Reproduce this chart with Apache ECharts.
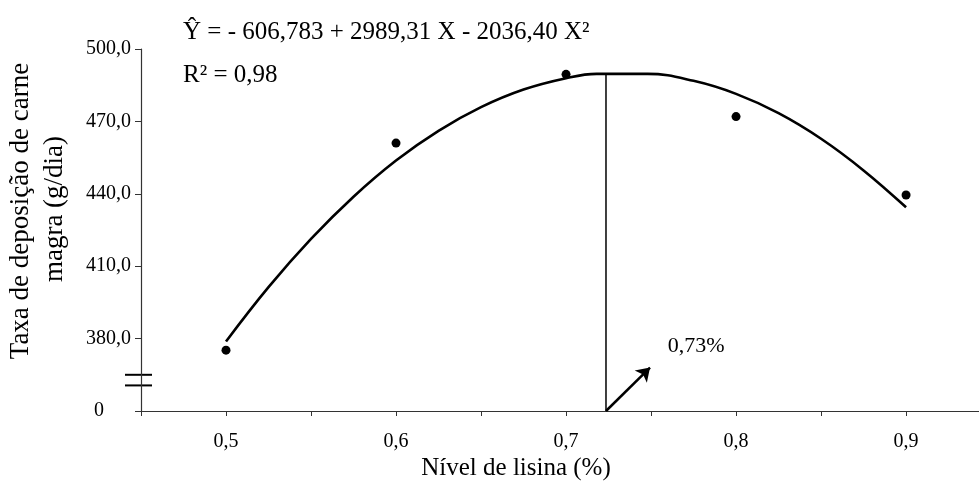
<!DOCTYPE html>
<html>
<head>
<meta charset="utf-8">
<script src="https://cdn.jsdelivr.net/npm/echarts@6/dist/echarts.min.js"></script>
<style>
	html, body { margin: 0; padding: 0; background: #fff; }
	#chart { width: 979px; height: 484px; }
</style>
</head>
<body>
<div id="chart"></div>
<script>
// níveis de lisina e médias observadas
var lysine = [0.5, 0.6, 0.7, 0.8, 0.9];
var observed = [375.2, 461.0, 489.5, 472.0, 439.5];

// curva ajustada
var fitX = [0.5, 0.525, 0.55, 0.575, 0.6, 0.625, 0.65, 0.675, 0.7, 0.718, 0.748, 0.775, 0.8, 0.825, 0.85, 0.875, 0.9];
var fitY = [378.8, 401.3, 421.3, 438.8, 453.8, 466.1, 475.9, 483.2, 487.9, 489.7, 489.7, 486.8, 481.4, 473.4, 462.8, 449.7, 434.4];

// ponto de máximo (0,73%)
var optimum = [0.7235, 489.7];
var arrowTip = [0.7494, 368];
var optLabelAt = [0.7765, 377];

var xTicks = [0.45, 0.5, 0.55, 0.6, 0.65, 0.7, 0.75, 0.8, 0.85, 0.9];
var xLabelValues = [0.5, 0.6, 0.7, 0.8, 0.9];
var xLabelText = ['0,5', '0,6', '0,7', '0,8', '0,9'];
var yTicks = [350, 380, 410, 440, 470, 500];
var yLabelText = ['0', '380,0', '410,0', '440,0', '470,0', '500,0'];

function createChart() {
	var dom = document.getElementById('chart');
	var myChart = echarts.init(dom);
	var serif = 'Liberation Serif';

	var fitData = [];
	for (var i = 0; i < fitX.length; i++) {
		fitData.push([fitX[i], fitY[i]]);
	}
	var pointData = [];
	for (var j = 0; j < lysine.length; j++) {
		pointData.push([lysine[j], observed[j]]);
	}

	var option = {
		animation: false,
		grid: {
			left: 141,
			top: 49,
			right: 0,
			height: 362
		},
		xAxis: {
			type: 'value',
			min: 0.45,
			max: 0.9429,
			axisLine: { lineStyle: { color: '#333', width: 1.2 } },
			axisTick: {
				length: 5,
				customValues: xTicks,
				lineStyle: { color: '#333' }
			},
			axisLabel: {
				customValues: xLabelValues,
				margin: 21,
				color: '#000',
				fontFamily: serif,
				fontSize: 20,
				formatter: function (v) {
					var k = xLabelValues.indexOf(Math.round(v * 100) / 100);
					return k < 0 ? '' : xLabelText[k];
				}
			},
			splitLine: { show: false }
		},
		yAxis: {
			type: 'value',
			min: 350,
			max: 500,
			axisLine: { show: true, lineStyle: { color: '#333', width: 1.2 } },
			axisTick: {
				show: true,
				length: 6,
				customValues: yTicks,
				lineStyle: { color: '#333' }
			},
			axisLabel: {
				customValues: yTicks,
				margin: 10,
				color: '#000',
				fontFamily: serif,
				fontSize: 20,
				formatter: function (v) {
					var k = yTicks.indexOf(Math.round(v));
					if (k === 0) {
						return '{z|' + yLabelText[0] + '}';
					}
					return k < 0 ? '' : yLabelText[k];
				},
				rich: {
					z: {
						fontFamily: serif,
						fontSize: 20,
						color: '#000',
						padding: [0, 27, 0, 0]
					}
				}
			},
			splitLine: { show: false }
		},
		series: [
			{
				name: 'ajuste',
				type: 'line',
				data: fitData,
				smooth: 0.4,
				showSymbol: false,
				lineStyle: { color: '#000', width: 2.6 },
				z: 3
			},
			{
				name: 'observado',
				type: 'scatter',
				data: pointData,
				symbolSize: 9,
				itemStyle: { color: '#000', opacity: 1 },
				z: 4
			},
			{
				name: 'maximo',
				type: 'line',
				data: [[optimum[0], 350], [optimum[0], optimum[1]]],
				showSymbol: false,
				lineStyle: { color: '#000', width: 1.5 },
				z: 2,
				markLine: {
					silent: true,
					symbol: ['none', 'arrow'],
					symbolSize: 13,
					label: { show: false },
					lineStyle: { color: '#000', width: 2.5, type: 'solid' },
					data: [[
						{ coord: [optimum[0], 350] },
						{ coord: arrowTip }
					]]
				},
				markPoint: {
					silent: true,
					symbol: 'circle',
					symbolSize: 1,
					itemStyle: { color: 'rgba(0,0,0,0)' },
					label: {
						show: true,
						position: 'inside',
						formatter: '0,73%',
						color: '#000',
						fontFamily: serif,
						fontSize: 22
					},
					data: [{ coord: optLabelAt }]
				}
			}
		]
	};

	myChart.setOption(option, true);

	// marcas de quebra do eixo y
	var yUp = myChart.convertToPixel({ yAxisIndex: 0 }, 365);
	var yLow = myChart.convertToPixel({ yAxisIndex: 0 }, 360.6);
	var xAx = myChart.convertToPixel({ xAxisIndex: 0 }, 0.45);
	var textStyle = function (txt, size) {
		return { text: txt, fill: '#000', font: size + 'px "Liberation Serif"', textAlign: 'left', textVerticalAlign: 'middle' };
	};

	myChart.setOption({
		graphic: [
			{ type: 'line', shape: { x1: xAx - 16, y1: yUp, x2: xAx + 11, y2: yUp }, style: { stroke: '#000', lineWidth: 2 } },
			{ type: 'line', shape: { x1: xAx - 16, y1: yLow, x2: xAx + 11, y2: yLow }, style: { stroke: '#000', lineWidth: 2 } },
			{ type: 'text', x: 183, y: 32, style: textStyle('\u0176 = - 606,783 + 2989,31 X - 2036,40 X\u00b2', 25) },
			{ type: 'text', x: 183, y: 75, style: textStyle('R\u00b2 = 0,98', 25) },
			{
				type: 'text', x: 516, y: 468,
				style: { text: 'Nível de lisina (%)', fill: '#000', font: '25px "Liberation Serif"', textAlign: 'center', textVerticalAlign: 'middle' }
			},
			{
				type: 'text', x: 21, y: 211, rotation: Math.PI / 2,
				style: { text: 'Taxa de deposição de carne', fill: '#000', font: '27px "Liberation Serif"', textAlign: 'center', textVerticalAlign: 'middle' }
			},
			{
				type: 'text', x: 55, y: 209, rotation: Math.PI / 2,
				style: { text: 'magra (g/dia)', fill: '#000', font: '27px "Liberation Serif"', textAlign: 'center', textVerticalAlign: 'middle' }
			}
		]
	});
}
createChart();
</script>
</body>
</html>
